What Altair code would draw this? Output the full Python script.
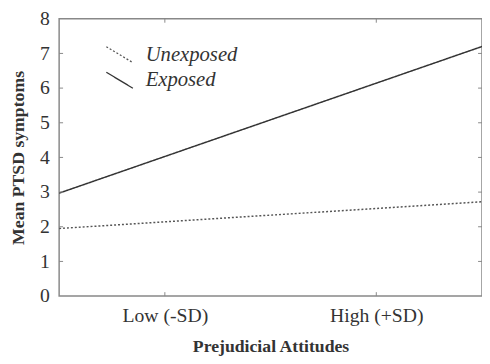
import altair as alt
import pandas as pd

# Data
groups = ["Unexposed", "Exposed"]
x_positions = [0, 4]
unexposed_vals = [1.95, 2.72]
exposed_vals = [2.97, 7.2]
x_tick_vals = [1, 3]
x_tick_labels = ["Low (-SD)", "High (+SD)"]
y_tick_vals = [0, 1, 2, 3, 4, 5, 6, 7, 8]

rows = []
for x, v in zip(x_positions, unexposed_vals):
    rows.append({"x": x, "y": v, "group": "Unexposed"})
for x, v in zip(x_positions, exposed_vals):
    rows.append({"x": x, "y": v, "group": "Exposed"})
df = pd.DataFrame(rows)

FONT = "Times New Roman, Liberation Serif, serif"
label_expr = " : ".join(
    [f"datum.value == {v} ? '{l}'" for v, l in zip(x_tick_vals, x_tick_labels)]
) + " : ''"

xscale = alt.Scale(domain=[0, 4], nice=False, zero=False)
yscale = alt.Scale(domain=[0, 8], nice=False)

x_axis = alt.Axis(values=x_tick_vals, labelExpr=label_expr, title="Prejudicial Attitudes",
                  grid=False, domain=False, ticks=False, labelPadding=10,
                  labelOverlap=False,
                  labelFont=FONT, labelFontSize=20, labelColor="#333",
                  titleFont=FONT, titleFontSize=18, titleFontWeight="bold",
                  titleColor="#333", titlePadding=12)
y_axis = alt.Axis(values=y_tick_vals, title="Mean PTSD symptoms", grid=False,
                  domain=False, ticks=False, labelPadding=10, labelOverlap=False,
                  labelFont=FONT, labelFontSize=20, labelColor="#333",
                  titleFont=FONT, titleFontSize=18, titleFontWeight="bold",
                  titleColor="#333", titlePadding=12)

lines = alt.Chart(df).mark_line(strokeWidth=1.5).encode(
    x=alt.X("x:Q", scale=xscale, axis=x_axis, title="Prejudicial Attitudes"),
    y=alt.Y("y:Q", scale=yscale, axis=y_axis, title="Mean PTSD symptoms"),
    color=alt.Color("group:N", scale=alt.Scale(domain=groups, range=["#555", "#333"]),
                    legend=alt.Legend(title=None, orient="none", legendX=47, legendY=22,
                                      symbolType="M-1,-0.6L1,0.6", symbolSize=729,
                                      symbolStrokeWidth=1.3, rowPadding=0,
                                      labelFont=FONT, labelFontSize=21,
                                      labelFontStyle="italic", labelColor="#333",
                                      labelOffset=12)),
    strokeDash=alt.StrokeDash("group:N", scale=alt.Scale(domain=groups, range=[[2, 2], [1, 0]]),
                              legend=None),
)

ydf = pd.DataFrame({"v": y_tick_vals[1:-1]})
xdf = pd.DataFrame({"v": x_tick_vals})
tick_color = "#888"
left_ticks = alt.Chart(ydf).mark_rule(color=tick_color, strokeWidth=1).encode(
    y=alt.Y("v:Q", scale=yscale, axis=y_axis, title="Mean PTSD symptoms"),
    x=alt.value(0), x2=alt.value(4))
right_ticks = alt.Chart(ydf).mark_rule(color=tick_color, strokeWidth=1).encode(
    y=alt.Y("v:Q", scale=yscale, axis=y_axis, title="Mean PTSD symptoms"),
    x=alt.value(430), x2=alt.value(426))
top_ticks = alt.Chart(xdf).mark_rule(color=tick_color, strokeWidth=1).encode(
    x=alt.X("v:Q", scale=xscale, axis=x_axis, title="Prejudicial Attitudes"),
    y=alt.value(0), y2=alt.value(4))
bottom_ticks = alt.Chart(xdf).mark_rule(color=tick_color, strokeWidth=1).encode(
    x=alt.X("v:Q", scale=xscale, axis=x_axis, title="Prejudicial Attitudes"),
    y=alt.value(282), y2=alt.value(278))

chart = alt.layer(lines, left_ticks, right_ticks, top_ticks, bottom_ticks).properties(
    width=430, height=282,
    autosize=alt.AutoSizeParams(type="none"),
    padding={"left": 52, "top": 8, "right": 0, "bottom": 60},
    background="white",
).configure_view(stroke="#888", strokeWidth=1.5)

chart.save("out.html", embed_options={"renderer": "svg", "actions": False})
